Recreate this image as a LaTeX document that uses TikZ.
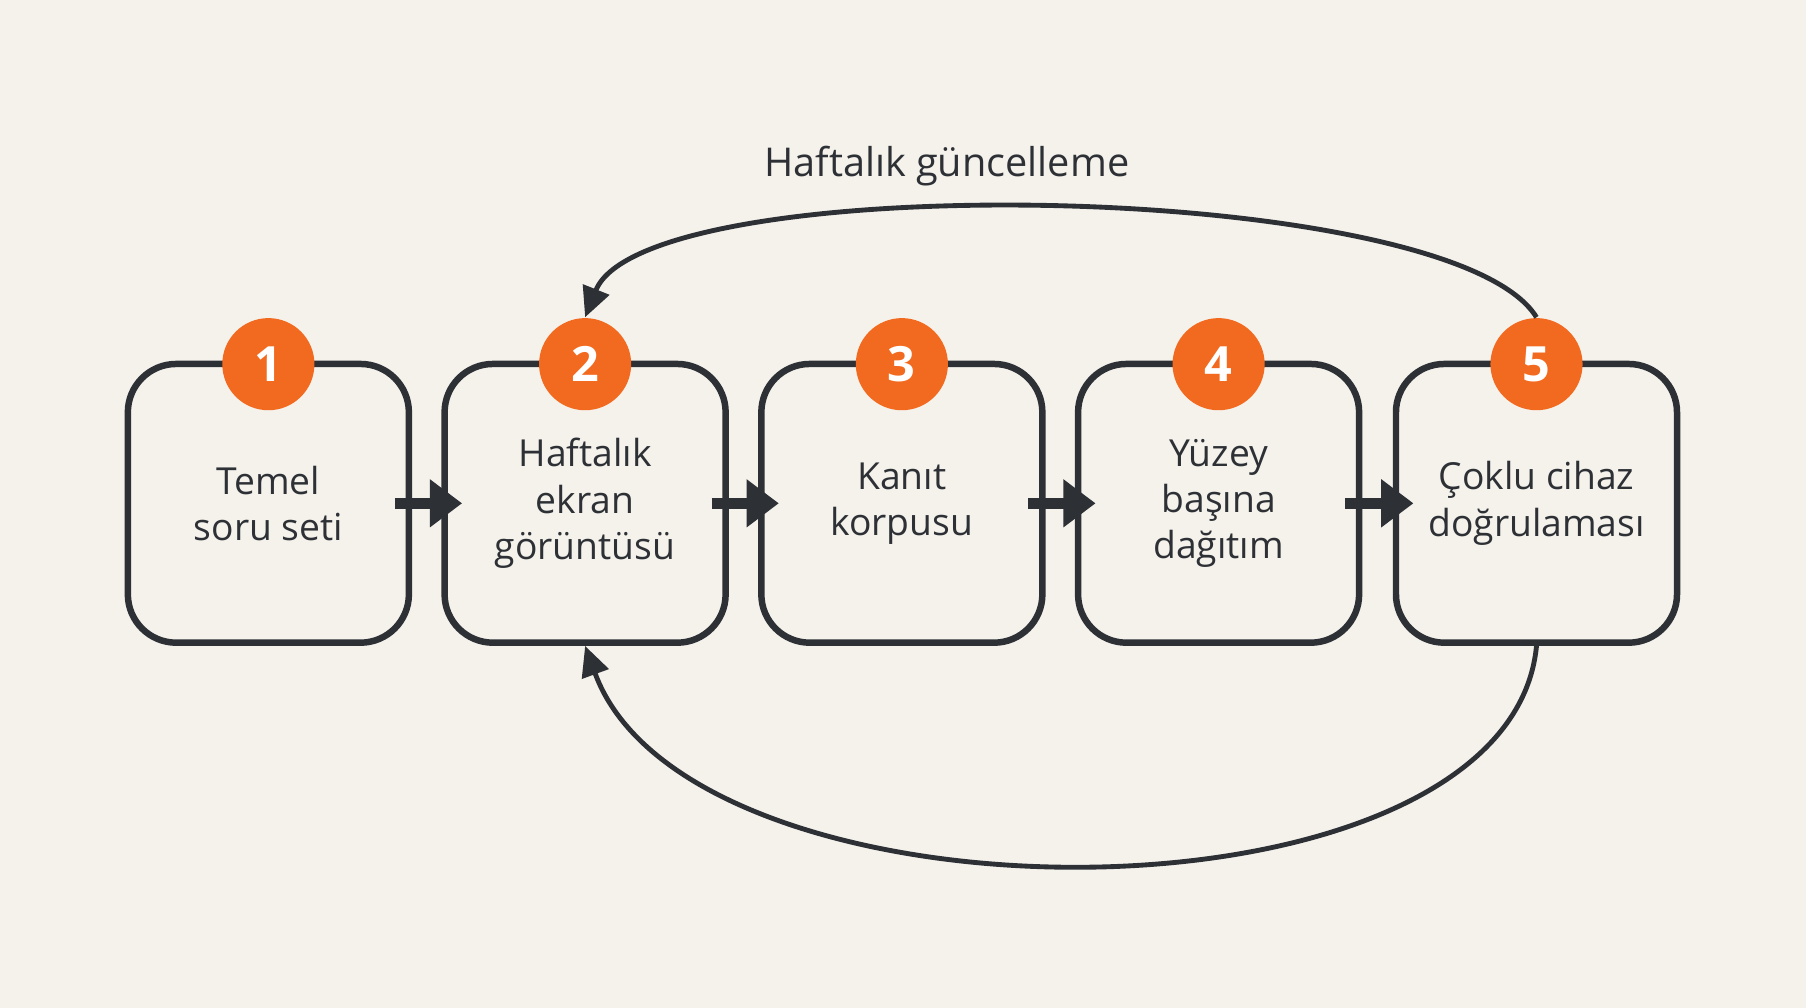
\documentclass[tikz,border=0pt]{standalone}
\usepackage{fontspec}
\setmainfont{Open Sans}
\usetikzlibrary{arrows.meta}
\definecolor{bgc}{HTML}{F5F2EC}
\definecolor{ink}{HTML}{2D3035}
\definecolor{orng}{HTML}{F26A1F}
\begin{document}
\begin{tikzpicture}[
    stage/.style={draw=ink,line width=1.6pt,rounded corners=0.42cm,fill=bgc,
      minimum width=2.44cm,minimum height=2.42cm,align=center,
      font=\fontsize{9.2}{11.4}\selectfont,text=ink},
    num/.style={circle,fill=orng,minimum size=0.8cm,inner sep=0pt,
      text=white,font=\fontsize{12}{12}\selectfont\bfseries},
    flow/.style={ink,line width=2.8pt,-{Triangle[length=0.28cm,width=0.4cm]}},
    loop/.style={ink,line width=1.2pt,-{Triangle[length=0.26cm,width=0.24cm]}}]
    \fill [bgc] (0,0) rectangle (15.68,8.75);
    \useasboundingbox (0,0) rectangle (15.68,8.75);

    \node [stage] (b1) at (2.33,4.38) {Temel\\soru seti};
    \node [stage] (b2) at (5.08,4.38) {Haftalık\\ekran\\görüntüsü};
    \node [stage] (b3) at (7.83,4.38) {Kanıt\\korpusu};
    \node [stage] (b4) at (10.58,4.38) {Yüzey\\başına\\dağıtım};
    \node [stage] (b5) at (13.34,4.38) {Çoklu cihaz\\doğrulaması};
    \foreach \i in {1,...,5} {
        \node [num] (n\i) at ([yshift=-0.03cm]b\i.north) {\i};
    }

    \foreach \a/\b in {b1/b2,b2/b3,b3/b4,b4/b5} {
        \draw [flow] ([xshift=-0.15cm]\a.east) -- ([xshift=0.18cm]\b.west);
    }

    % feedback loops
    \draw [loop] (n5.north) .. controls (12.6,7.2) and (5.6,7.3) .. (n2.north);
    \node [text=ink,font=\fontsize{9.8}{12}\selectfont] (lbl) at (8.22,7.31) {Haftalık güncelleme};
    \draw [loop] (b5.south) .. controls (13.1,0.62) and (6.0,0.62) .. (b2.south);
\end{tikzpicture}
\end{document}
